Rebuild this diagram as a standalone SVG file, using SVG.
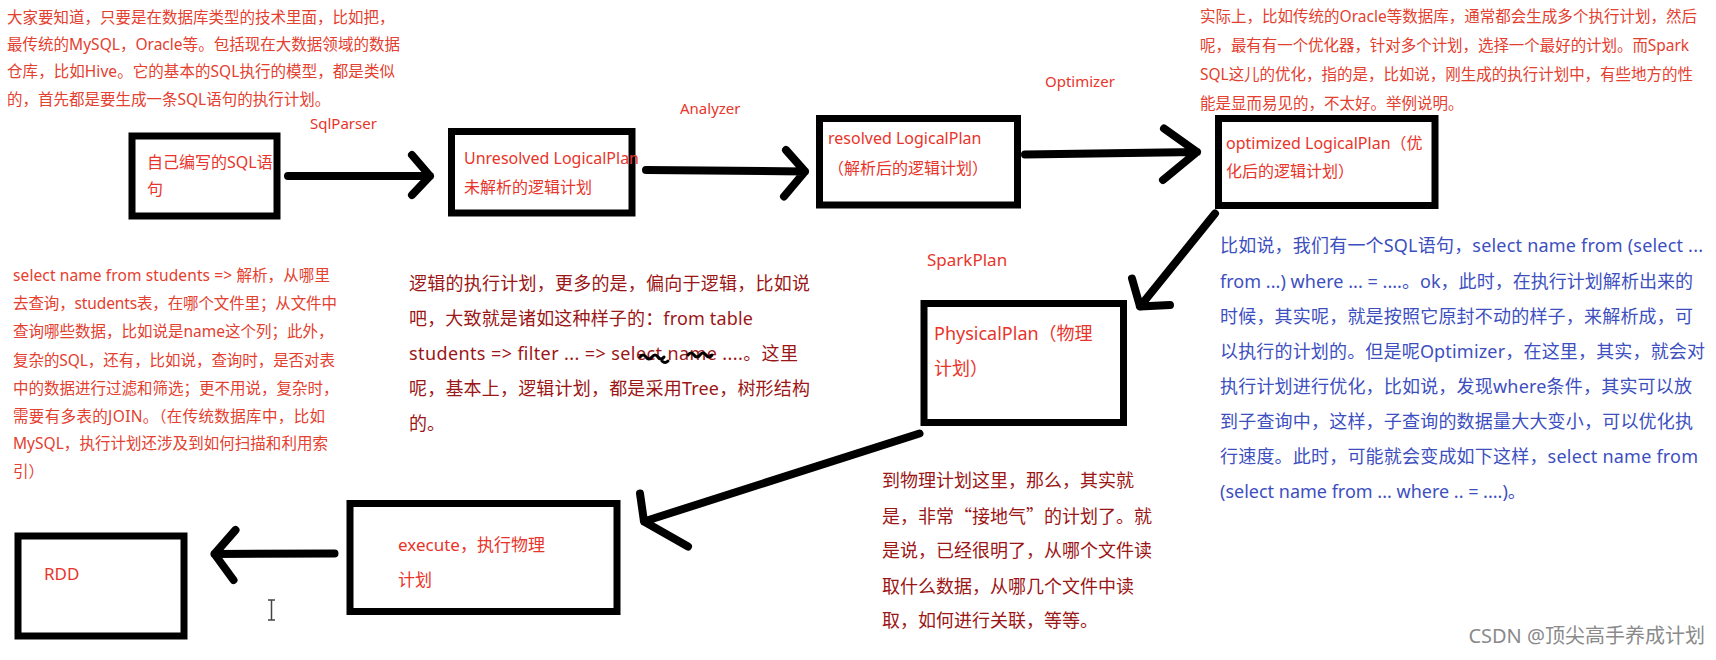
<svg xmlns="http://www.w3.org/2000/svg" width="1716" height="660" viewBox="0 0 1716 660">
<style>
text { font-family: "Noto Sans", "Noto Sans CJK SC", sans-serif; }
.cjk { font-family: "Noto Sans CJK SC", sans-serif; }
.box { fill: #ffffff; stroke: #000000; stroke-width: 7; }
.lbl { fill: #e8352b; font-size: 16px; }
.edge { fill: #e8352b; font-size: 15px; }
.note { fill: #e4402f; font-size: 15.5px; }
.dark { fill: #9b1616; font-size: 18px; }
.blue { fill: #3d4fbf; font-size: 18px; }
.arr { fill: none; stroke: #000000; stroke-width: 8; stroke-linecap: round; stroke-linejoin: round; }
.wm { fill: #8a8a8a; font-size: 20px; }
</style>
<rect width="1716" height="660" fill="#ffffff"/>

<g id="note-top-left" class="note">
<text x="7" y="23">大家要知道，只要是在数据库类型的技术里面，比如把，</text>
<text x="7" y="50" textLength="393">最传统的MySQL，Oracle等。包括现在大数据领域的数据</text>
<text x="7" y="77" textLength="388">仓库，比如Hive。它的基本的SQL执行的模型，都是类似</text>
<text x="7" y="105">的，首先都是要生成一条SQL语句的执行计划。</text>
</g>

<g id="note-top-right" class="note">
<text x="1200" y="22" textLength="497">实际上，比如传统的Oracle等数据库，通常都会生成多个执行计划，然后</text>
<text x="1200" y="51" textLength="489">呢，最有有一个优化器，针对多个计划，选择一个最好的计划。而Spark</text>
<text x="1200" y="80" textLength="493">SQL这儿的优化，指的是，比如说，刚生成的执行计划中，有些地方的性</text>
<text x="1200" y="109">能是显而易见的，不太好。举例说明。</text>
</g>

<g id="note-left" class="note">
<text x="13" y="281" textLength="317">select name from students =&gt; 解析，从哪里</text>
<text x="13" y="309" textLength="324">去查询，students表，在哪个文件里；从文件中</text>
<text x="13" y="337">查询哪些数据，比如说是name这个列；此外，</text>
<text x="13" y="366" textLength="322">复杂的SQL，还有，比如说，查询时，是否对表</text>
<text x="13" y="394">中的数据进行过滤和筛选；更不用说，复杂时，</text>
<text x="13" y="422" textLength="312">需要有多表的JOIN。（在传统数据库中，比如</text>
<text x="13" y="449" textLength="315">MySQL，执行计划还涉及到如何扫描和利用索</text>
<text x="13" y="477">引）</text>
</g>

<g id="note-middle" class="dark">
<text x="409" y="290" textLength="401">逻辑的执行计划，更多的是，偏向于逻辑，比如说</text>
<text x="409" y="325" textLength="344">吧，大致就是诸如这种样子的：from table</text>
<text x="409" y="360" textLength="389">students =&gt; filter ... =&gt; select name ....。这里</text>
<text x="409" y="395" textLength="401">呢，基本上，逻辑计划，都是采用Tree，树形结构</text>
<text x="409" y="430">的。</text>
</g>
<path d="M640 357 q3 -4 6 0 t6 0 t6 0 t6 0 M662 361 q3 3 6 0 M688 355 q3 -4 6 0 t6 0 t6 0 t6 0" fill="none" stroke="#000" stroke-width="3" stroke-linecap="round"/>

<g id="note-blue" class="blue">
<text x="1220" y="252" textLength="483">比如说，我们有一个SQL语句，select name from (select ...</text>
<text x="1220" y="288" textLength="473">from ...) where ... = ....。ok，此时，在执行计划解析出来的</text>
<text x="1220" y="323" textLength="473">时候，其实呢，就是按照它原封不动的样子，来解析成，可</text>
<text x="1220" y="358" textLength="485">以执行的计划的。但是呢Optimizer，在这里，其实，就会对</text>
<text x="1220" y="393" textLength="472">执行计划进行优化，比如说，发现where条件，其实可以放</text>
<text x="1220" y="428" textLength="473">到子查询中，这样，子查询的数据量大大变小，可以优化执</text>
<text x="1220" y="463" textLength="478">行速度。此时，可能就会变成如下这样，select name from</text>
<text x="1220" y="498">(select name from ... where .. = ....)。</text>
</g>

<g id="note-bottom" class="dark">
<text x="882" y="487">到物理计划这里，那么，其实就</text>
<text x="882" y="523">是，非常<tspan class="cjk">“</tspan>接地气<tspan class="cjk">”</tspan>的计划了。就</text>
<text x="882" y="557">是说，已经很明了，从哪个文件读</text>
<text x="882" y="593">取什么数据，从哪几个文件中读</text>
<text x="882" y="627">取，如何进行关联，等等。</text>
</g>

<g id="node-sql">
<rect class="box" x="132" y="136" width="145" height="80"/>
<text class="lbl" x="147" y="168">自己编写的SQL语</text>
<text class="lbl" x="147" y="195">句</text>
</g>

<g id="node-unresolved">
<rect class="box" x="451.5" y="131.5" width="180.5" height="81.5"/>
<text class="lbl" x="464" y="164">Unresolved LogicalPlan</text>
<text class="lbl" x="464" y="193">未解析的逻辑计划</text>
</g>

<g id="node-resolved">
<rect class="box" x="819.5" y="118.5" width="198" height="86.5"/>
<text class="lbl" x="828" y="144">resolved LogicalPlan</text>
<text class="lbl" x="828" y="174">（解析后的逻辑计划）</text>
</g>

<g id="node-optimized">
<rect class="box" x="1218.5" y="118.5" width="216.5" height="87"/>
<text class="lbl" x="1226" y="149">optimized LogicalPlan（优</text>
<text class="lbl" x="1226" y="177">化后的逻辑计划）</text>
</g>

<g id="node-physical">
<rect class="box" x="924" y="303.5" width="199.5" height="119"/>
<text class="lbl" x="934" y="340" style="font-size:18px">PhysicalPlan（物理</text>
<text class="lbl" x="934" y="375" style="font-size:18px">计划）</text>
</g>

<g id="node-execute">
<rect class="box" x="350" y="503.5" width="267" height="108"/>
<text class="lbl" x="398" y="551" style="font-size:17px">execute，执行物理</text>
<text class="lbl" x="398" y="586" style="font-size:17px">计划</text>
</g>

<g id="node-rdd">
<rect class="box" x="18" y="536" width="166" height="100"/>
<text class="lbl" x="44" y="580" style="font-size:17px">RDD</text>
</g>

<g id="connectors">
<path class="arr" d="M288 176 L430 176 M412 155 L430 176 L412 195"/>
<path class="arr" d="M646 170 L805 171.5 M786 150 L805 171.5 L784 196.5"/>
<path class="arr" d="M1025 154.5 L1197 152 M1164 128.5 L1197 152 L1163 180"/>
<path class="arr" d="M1215 213.5 L1140 306.5 M1132 278.5 L1140 306.5 L1170 305"/>
<path class="arr" d="M919.5 433.5 L644 521.5 M640 493.5 L644 521.5 L688 546.5"/>
<path class="arr" d="M334.5 553.5 L214.5 554 M235.5 530 L214.5 554 L233.5 580"/>
<text class="edge" x="310" y="129">SqlParser</text>
<text class="edge" x="680" y="114">Analyzer</text>
<text class="edge" x="1045" y="87">Optimizer</text>
<text class="edge" x="927" y="266" style="font-size:17px">SparkPlan</text>
</g>

<path d="M268 600 L275 600 M271.5 600 L271.5 620 M268 620 L275 620" fill="none" stroke="#444" stroke-width="1.5"/>

<text class="wm" x="1705" y="643" text-anchor="end">CSDN @顶尖高手养成计划</text>
</svg>
